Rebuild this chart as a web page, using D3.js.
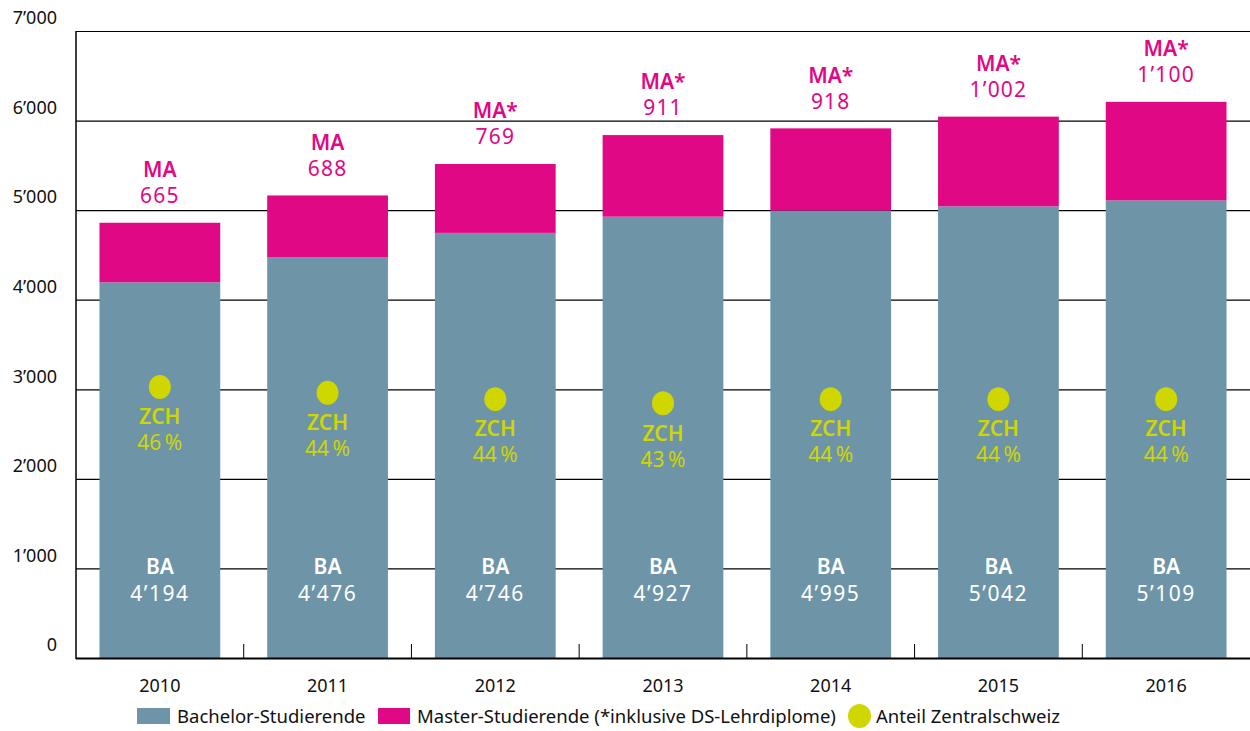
<!DOCTYPE html>
<html>
<head>
<meta charset="utf-8">
<script src="https://cdn.jsdelivr.net/npm/d3@7"></script>
<style>
  body { margin: 0; background: #fff; }
  svg text { font-family: "Noto Sans", "Open Sans", sans-serif; }
</style>
</head>
<body>
<svg id="chart"></svg>
<script>
// data
var years = ['2010', '2011', '2012', '2013', '2014', '2015', '2016'];
var bachelor = [4194, 4476, 4746, 4927, 4995, 5042, 5109];
var master = [665, 688, 769, 911, 918, 1002, 1100];
var masterTag = ['MA', 'MA', 'MA*', 'MA*', 'MA*', 'MA*', 'MA*'];
var zchShare = [46, 44, 44, 43, 44, 44, 44];
var zchDotLevel = [3025, 2960, 2890, 2845, 2890, 2890, 2890]; // where the dot sits on the y scale
var yTicks = [0, 1000, 2000, 3000, 4000, 5000, 6000, 7000];
var legendItems = ['Bachelor-Studierende', 'Master-Studierende (*inklusive DS-Lehrdiplome)', 'Anteil Zentralschweiz'];

var colBA = '#6e94a8', colMA = '#e00884', colZCH = '#cfd600';

var width = 1250, height = 731;
var margin = {left: 76, right: 0, top: 31, bottom: 73};

var svg = d3.select('#chart')
    .attr('width', width)
    .attr('height', height);

var fmt = d3.formatLocale({decimal: '.', thousands: '\u2019', grouping: [3], currency: ['', '']}).format(',d');

var x = d3.scaleBand()
    .domain(years)
    .range([margin.left, width - margin.right])
    .paddingInner(0.28)
    .paddingOuter(0.14);

var y = d3.scaleLinear()
    .domain([0, 7000])
    .range([height - margin.bottom, margin.top]);

var step = x.step();
var x0 = margin.left, y0 = y(0);

//gridlines
svg.append('g')
    .attr('class', 'grid')
    .selectAll('line')
    .data(yTicks.filter(function(d) {return d > 0;}))
    .enter()
    .append('line')
    .attr('x1', x0)
    .attr('x2', width)
    .attr('y1', function(d) {return y(d) + 0.5;})
    .attr('y2', function(d) {return y(d) + 0.5;})
    .attr('stroke', '#000')
    .attr('stroke-width', 1.2);

//y labels
svg.append('g')
    .selectAll('text')
    .data(yTicks)
    .enter()
    .append('text')
    .attr('x', 57)
    .attr('y', function(d) {return y(d) - 13;})
    .attr('dy', '0.35em')
    .attr('text-anchor', 'end')
    .attr('font-size', 18)
    .attr('fill', '#111')
    .text(function(d) {return fmt(d);});

var rows = years.map(function(yr, i) {
    return {year: yr, ba: bachelor[i], ma: master[i], tag: masterTag[i], zch: zchShare[i], dot: zchDotLevel[i]};
});

var bars = svg.append('g')
    .attr('class', 'bars')
    .selectAll('g')
    .data(rows)
    .enter()
    .append('g');

bars.append('rect')
    .attr('x', function(d) {return x(d.year);})
    .attr('width', x.bandwidth())
    .attr('y', function(d) {return y(d.ba);})
    .attr('height', function(d) {return y0 - y(d.ba);})
    .attr('fill', colBA);

bars.append('rect')
    .attr('x', function(d) {return x(d.year);})
    .attr('width', x.bandwidth())
    .attr('y', function(d) {return y(d.ba + d.ma);})
    .attr('height', function(d) {return y(d.ba) - y(d.ba + d.ma);})
    .attr('fill', colMA);

function cx(d) {return x(d.year) + x.bandwidth() / 2;}

//MA labels
bars.append('text')
    .attr('x', cx)
    .attr('y', function(d) {return y(d.ba + d.ma) - 53;})
    .attr('dy', '0.35em')
    .attr('text-anchor', 'middle')
    .attr('font-size', 21)
    .attr('font-weight', 600)
    .attr('fill', colMA)
    .text(function(d) {return d.tag;});
bars.append('text')
    .attr('x', cx)
    .attr('y', function(d) {return y(d.ba + d.ma) - 27;})
    .attr('dy', '0.35em')
    .attr('text-anchor', 'middle')
    .attr('font-size', 21)
    .attr('letter-spacing', 1.2)
    .attr('fill', colMA)
    .text(function(d) {return fmt(d.ma);});

//BA labels
bars.append('text')
    .attr('x', cx)
    .attr('y', 567)
    .attr('dy', '0.35em')
    .attr('text-anchor', 'middle')
    .attr('font-size', 21)
    .attr('font-weight', 600)
    .attr('fill', '#fff')
    .text('BA');
bars.append('text')
    .attr('x', cx)
    .attr('y', 594)
    .attr('dy', '0.35em')
    .attr('text-anchor', 'middle')
    .attr('font-size', 21)
    .attr('letter-spacing', 1.5)
    .attr('fill', '#fff')
    .text(function(d) {return fmt(d.ba);});

//ZCH dots and labels
bars.append('ellipse')
    .attr('cx', cx)
    .attr('cy', function(d) {return y(d.dot);})
    .attr('rx', 11)
    .attr('ry', 12)
    .attr('fill', colZCH);
bars.append('text')
    .attr('x', cx)
    .attr('y', function(d) {return y(d.dot) + 30;})
    .attr('dy', '0.35em')
    .attr('text-anchor', 'middle')
    .attr('font-size', 21)
    .attr('font-weight', 600)
    .attr('fill', colZCH)
    .text('ZCH');
bars.append('text')
    .attr('x', cx)
    .attr('y', function(d) {return y(d.dot) + 56;})
    .attr('dy', '0.35em')
    .attr('text-anchor', 'middle')
    .attr('font-size', 21)
    .attr('fill', colZCH)
    .text(function(d) {return d.zch + '\u2009%';});

//axes lines
svg.append('line')
    .attr('x1', x0).attr('x2', x0)
    .attr('y1', margin.top).attr('y2', y0 + 1)
    .attr('stroke', '#000').attr('stroke-width', 1.5);
svg.append('line')
    .attr('x1', x0).attr('x2', width)
    .attr('y1', y0 + 0.5).attr('y2', y0 + 0.5)
    .attr('stroke', '#000').attr('stroke-width', 1.8);

//separator ticks between years
svg.append('g')
    .selectAll('line')
    .data(years.slice(1))
    .enter()
    .append('line')
    .attr('x1', function(d) {return x(d) - x.paddingInner() * step / 2;})
    .attr('x2', function(d) {return x(d) - x.paddingInner() * step / 2;})
    .attr('y1', y0)
    .attr('y2', y0 - 14)
    .attr('stroke', '#000')
    .attr('stroke-width', 1);

//x labels
svg.append('g')
    .selectAll('text')
    .data(years)
    .enter()
    .append('text')
    .attr('x', function(d) {return x(d) + x.bandwidth() / 2;})
    .attr('y', 686)
    .attr('dy', '0.35em')
    .attr('text-anchor', 'middle')
    .attr('font-size', 18)
    .attr('fill', '#111')
    .text(function(d) {return d;});

//legend
var legend = svg.append('g').attr('class', 'legend');
var legX = [137, 378, 848];
var legTextX = [177, 417, 876];
legend.append('rect').attr('x', legX[0]).attr('y', 708).attr('width', 33).attr('height', 16).attr('fill', colBA);
legend.append('rect').attr('x', legX[1]).attr('y', 708).attr('width', 32).attr('height', 16).attr('fill', colMA);
legend.append('ellipse').attr('cx', legX[2] + 11.5).attr('cy', 716).attr('rx', 11.5).attr('ry', 12).attr('fill', colZCH);
legend.selectAll('text')
    .data(legendItems)
    .enter()
    .append('text')
    .attr('x', function(d, i) {return legTextX[i];})
    .attr('y', 717)
    .attr('dy', '0.35em')
    .attr('font-size', 18.5)
    .attr('fill', '#111')
    .text(function(d) {return d;});
</script>
</body>
</html>
